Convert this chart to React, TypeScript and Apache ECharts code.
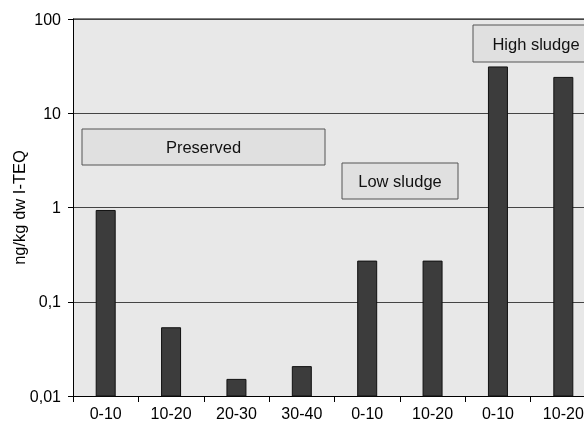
import React, { useEffect, useRef } from "react";
import * as echarts from "echarts";

const categories = ["0-10", "10-20", "20-30", "30-40", "0-10", "10-20", "0-10", "10-20"];
const values = [0.93, 0.053, 0.015, 0.0205, 0.27, 0.27, 31, 24];
const yTickLabels: Record<string, string> = { "0.01": "0,01", "0.1": "0,1", "1": "1", "10": "10", "100": "100" };
const groupLabels = ["Preserved", "Low sludge", "High sludge"];
const axisMin = 0.01;
const axisMax = 100;

export default function App() {
  const ref = useRef<HTMLDivElement>(null);
  useEffect(() => {
    if (!ref.current) return;
    const chart = echarts.init(ref.current, null, { renderer: "svg" });
    const font = "Liberation Sans, Arial, sans-serif";
    const box = (x: number, y: number, w: number, h: number, text: string) => ({
      type: "group",
      children: [
        {
          type: "rect",
          shape: { x, y, width: w, height: h },
          style: { fill: "#e0e0e0", stroke: "#555", lineWidth: 1 },
        },
        {
          type: "text",
          x: x + w / 2,
          y: y + h / 2,
          style: {
            text,
            fill: "#111",
            font: `16.5px ${font}`,
            align: "center",
            verticalAlign: "middle",
          },
        },
      ],
    });
    chart.setOption({
      animation: false,
      grid: {
        left: 73,
        top: 19,
        width: 523,
        height: 377,
        show: true,
        backgroundColor: "#e8e8e8",
        borderWidth: 0,
        containLabel: false,
        outerBoundsMode: "none",
      },
      xAxis: {
        type: "category",
        data: categories,
        axisLine: { lineStyle: { color: "#000", width: 1 } },
        axisTick: { show: true, length: 6, lineStyle: { color: "#000" } },
        axisLabel: { color: "#000", fontSize: 16, fontFamily: font, margin: 9, interval: 0 },
      },
      yAxis: {
        type: "log",
        logBase: 10,
        min: axisMin,
        max: axisMax,
        name: "ng/kg dw I-TEQ",
        nameLocation: "middle",
        nameGap: 46,
        nameMoveOverlap: false,
        nameTextStyle: { color: "#000", fontSize: 16.5, fontFamily: font },
        axisLine: { show: true, lineStyle: { color: "#000", width: 1 } },
        axisTick: { show: true, length: 5, lineStyle: { color: "#000" } },
        axisLabel: {
          color: "#000",
          fontSize: 16,
          fontFamily: font,
          margin: 12,
          formatter: (v: number) => yTickLabels[String(v)] ?? String(v).replace(".", ","),
        },
        splitLine: { show: true, lineStyle: { color: "#444", width: 1 } },
      },
      series: [
        {
          type: "custom",
          data: values.map((v, i) => [i, v]),
          encode: { x: 0, y: 1 },
          renderItem: (params: any, api: any) => {
            const top = api.coord([api.value(0), api.value(1)]);
            const base = api.coord([api.value(0), axisMin]);
            const w = 19;
            return {
              type: "rect",
              shape: { x: top[0] - w / 2, y: top[1], width: w, height: base[1] - top[1] },
              style: { fill: "#3c3c3c", stroke: "#111", lineWidth: 1 },
            };
          },
        },
      ],
      graphic: [
        box(82, 129, 243, 36, groupLabels[0]),
        box(342, 163, 116, 36, groupLabels[1]),
        box(473, 25, 126, 37, groupLabels[2]),
        {
          type: "line",
          shape: { x1: 73, y1: 19, x2: 584, y2: 19 },
          style: { stroke: "#000", lineWidth: 1 },
        },
      ],
    });
    return () => chart.dispose();
  }, []);
  return (
    <div
      ref={ref}
      style={{ position: "fixed", left: 0, top: 0, width: 584, height: 429 }}
    />
  );
}
